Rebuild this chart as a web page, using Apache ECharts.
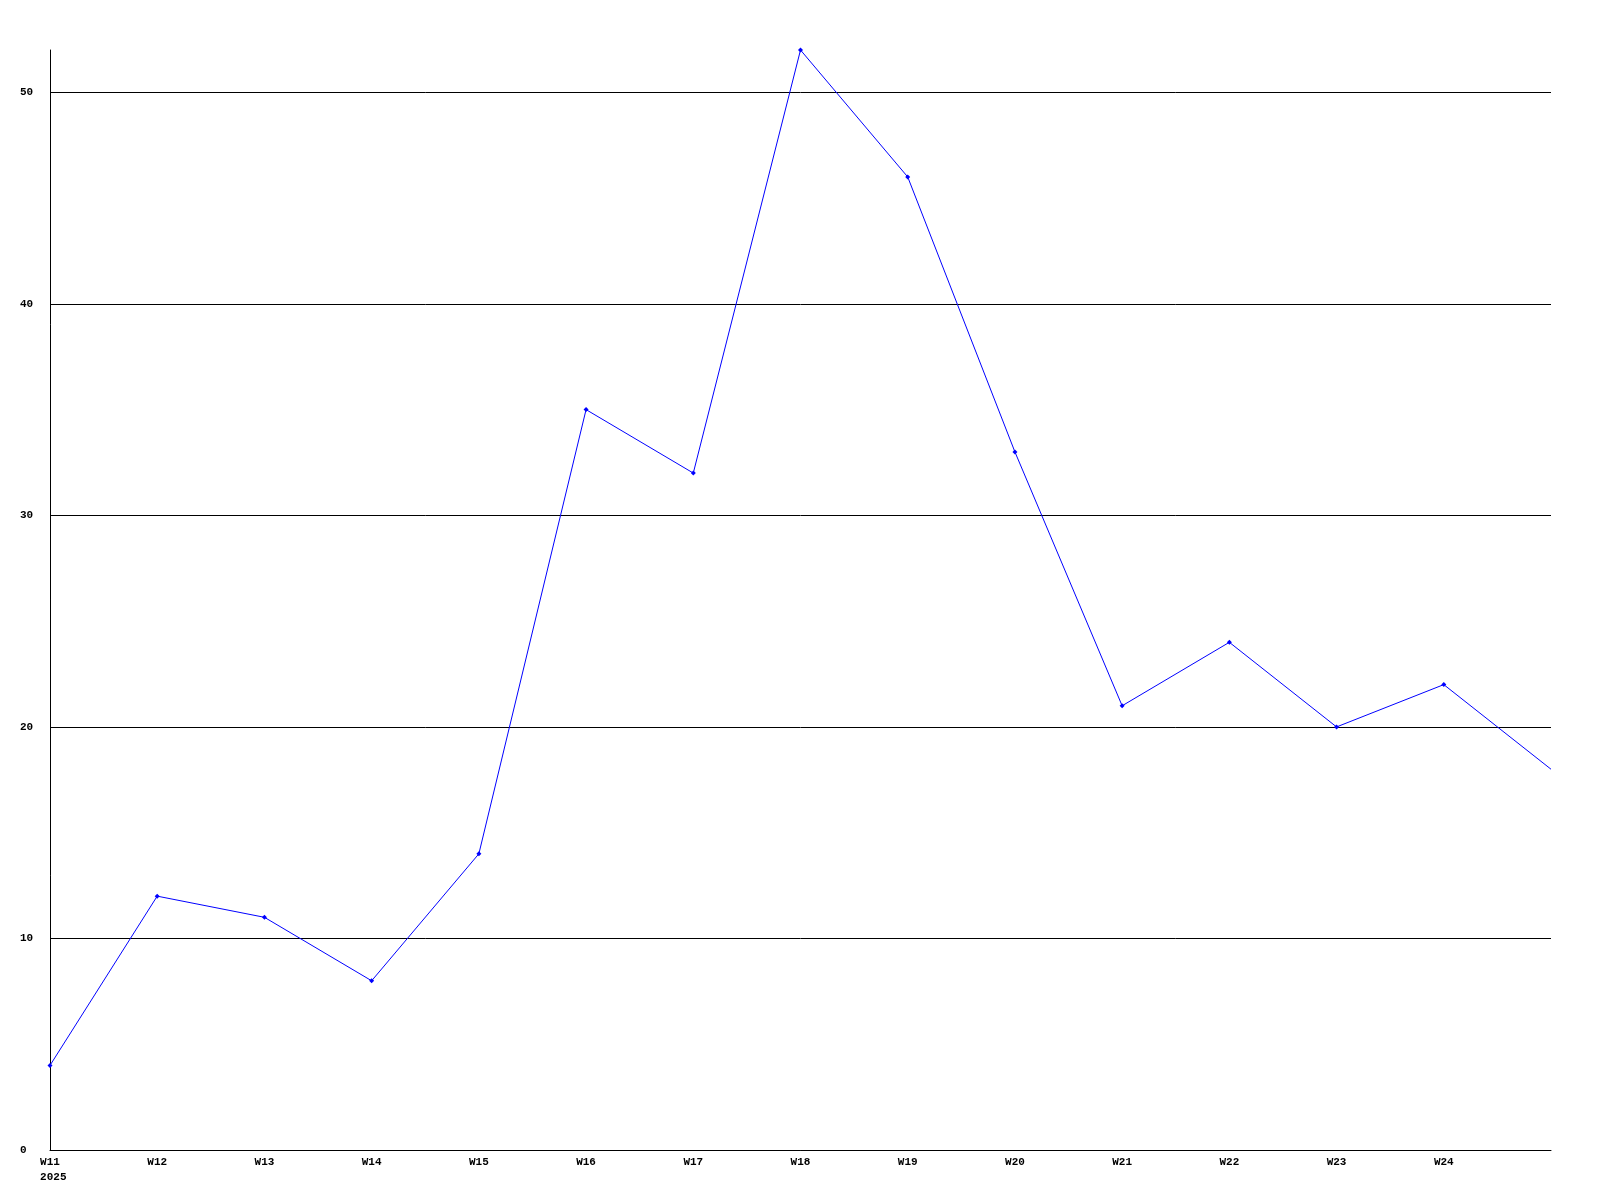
<!DOCTYPE html>
<html><head><meta charset="utf-8">
<script src="https://cdn.jsdelivr.net/npm/echarts@6/dist/echarts.min.js"></script>
<style>html,body{margin:0;padding:0;background:#fff}#c{width:1600px;height:1200px}</style>
</head><body><div id="c"></div>
<script>
const categories = ['W11','W12','W13','W14','W15','W16','W17','W18','W19','W20','W21','W22','W23','W24',''];
const yearLabel = '2025';
const values = [4,12,11,8,14,35,32,52,46,33,21,24,20,22,18];
const yMin = 0, yMax = 52, yInterval = 10;

const chart = echarts.init(document.getElementById('c'), null, {renderer:'canvas'});
const font = {fontFamily:'Liberation Mono', fontWeight:'bold', fontSize:11, color:'#000'};
const seriesData = values.map((v,i)=> i === values.length-1 ? {value:v, symbol:'none'} : v);
chart.setOption({
  backgroundColor:'#fff',
  animation:false,
  grid:{left:50,right:49,top:50,bottom:50},
  xAxis:{type:'category',data:categories,boundaryGap:false,
    axisLine:{lineStyle:{color:'#000',width:1}},
    axisTick:{show:false},
    axisLabel:Object.assign({margin:5,interval:0,lineHeight:15,
      formatter:(v,i)=> i===0 ? '{a|'+v+'}\n{s|}{a|'+yearLabel+'}' : '{a|'+v+'}',
      rich:{a:Object.assign({lineHeight:15},font), s:{width:6.6,lineHeight:15}}},font),
    splitLine:{show:false}},
  yAxis:{type:'value',min:yMin,max:yMax,interval:yInterval,
    axisLine:{show:true,lineStyle:{color:'#000',width:1}},
    axisTick:{show:false},
    axisLabel:Object.assign({margin:30,align:'left',showMaxLabel:false},font),
    splitLine:{show:true,showMaxLine:false,lineStyle:{color:'#000',width:1}}},
  series:[{type:'line',data:seriesData,symbol:'diamond',symbolSize:5,showAllSymbol:true,
    lineStyle:{color:'#0000ff',width:1},itemStyle:{color:'#0000ff'}}]
});
</script></body></html>
